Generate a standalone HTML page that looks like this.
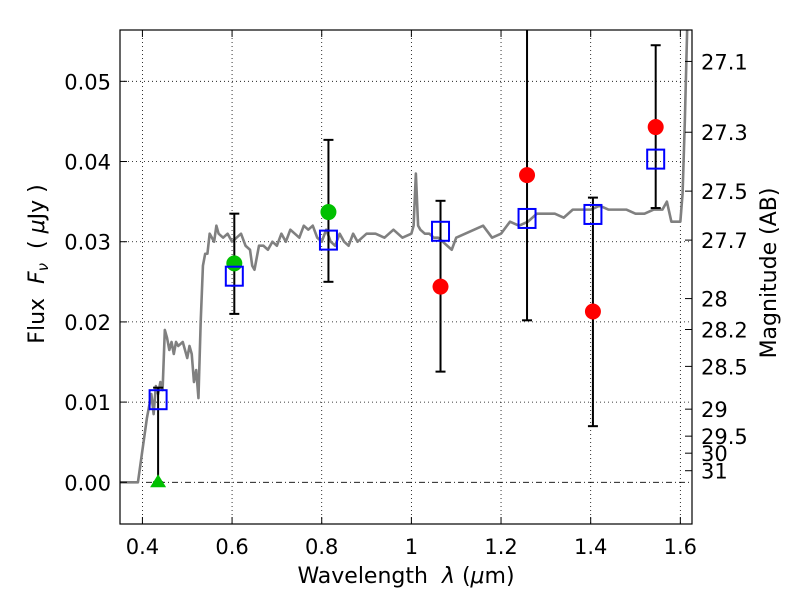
<!DOCTYPE html>
<html><head><meta charset="utf-8"><style>
body{margin:0;background:#fff;}
svg{display:block;font-family:"DejaVu Sans","Liberation Sans",sans-serif;}
text{white-space:pre;}
</style></head><body>
<svg id="c" width="800" height="600" xmlns="http://www.w3.org/2000/svg"></svg>
<script>
const xTicks=[0.4,0.6,0.8,1.0,1.2,1.4,1.6];
const xTickLabels=["0.4","0.6","0.8","1","1.2","1.4","1.6"];
const yTicks=[0,0.01,0.02,0.03,0.04,0.05];
const yTickLabels=["0.00","0.01","0.02","0.03","0.04","0.05"];
const magTicks=[27.1,27.3,27.5,27.7,28,28.2,28.5,29,29.5,30,31];
const bandWl=[0.435,0.605,0.815,1.065,1.258,1.405,1.545];
const modelFlux=[0.0103,0.0257,0.0302,0.0313,0.0329,0.0334,0.0403];
const errHi=[0.0118,0.0335,0.0427,0.0351,0.07,0.0355,0.0545];
const errLo=[0.0,0.021,0.025,0.0138,0.0202,0.007,0.0342];
const greenWl=[0.605,0.815];
const greenFlux=[0.0273,0.0337];
const limitWl=[0.435];
const limitFlux=[0.0];
const redWl=[1.065,1.258,1.405,1.545];
const redFlux=[0.0244,0.0383,0.0213,0.0443];
const specWl=[0.35,0.39,0.40,0.41,0.42,0.425,0.43,0.435,0.44,0.445,0.45,0.455,0.46,0.465,0.47,0.475,0.48,0.49,0.50,0.505,0.51,0.515,0.52,0.525,0.53,0.535,0.54,0.545,0.55,0.56,0.565,0.57,0.58,0.59,0.60,0.61,0.62,0.63,0.64,0.645,0.65,0.655,0.66,0.67,0.68,0.69,0.70,0.71,0.72,0.73,0.74,0.75,0.76,0.77,0.78,0.79,0.80,0.81,0.82,0.83,0.84,0.85,0.86,0.87,0.88,0.89,0.90,0.92,0.94,0.96,0.98,1.0,1.005,1.01,1.015,1.02,1.03,1.04,1.05,1.06,1.07,1.08,1.09,1.10,1.12,1.14,1.16,1.18,1.20,1.22,1.24,1.26,1.28,1.30,1.32,1.34,1.36,1.38,1.40,1.42,1.44,1.46,1.48,1.50,1.52,1.54,1.56,1.57,1.58,1.60,1.605,1.61,1.615,1.62];
const specFlux=[0,0,0.004,0.008,0.011,0.0085,0.012,0.011,0.0125,0.0115,0.019,0.018,0.0165,0.0175,0.016,0.0175,0.017,0.0175,0.0155,0.017,0.016,0.0125,0.014,0.0105,0.020,0.027,0.0285,0.0285,0.031,0.030,0.032,0.031,0.0305,0.031,0.030,0.0305,0.031,0.0295,0.029,0.027,0.0265,0.028,0.0295,0.0295,0.029,0.030,0.0295,0.031,0.030,0.0315,0.031,0.0305,0.032,0.0315,0.032,0.0305,0.030,0.0315,0.030,0.0295,0.031,0.030,0.0295,0.031,0.030,0.0305,0.031,0.031,0.0305,0.0315,0.0305,0.031,0.032,0.0385,0.032,0.0315,0.031,0.031,0.0305,0.0305,0.030,0.0295,0.029,0.0305,0.031,0.0315,0.032,0.0305,0.031,0.0325,0.032,0.0325,0.0335,0.0335,0.0335,0.033,0.034,0.034,0.034,0.0345,0.034,0.034,0.034,0.0335,0.0335,0.034,0.034,0.035,0.0325,0.0325,0.036,0.045,0.056,0.07];
const X0=0.35,X1=1.626,PX0=120,PX1=692;
const Y0=-0.0052,Y1=0.0564,PY0=524,PY1=30;
const sx=v=>PX0+(v-X0)/(X1-X0)*(PX1-PX0);
const sy=v=>PY0-(v-Y0)/(Y1-Y0)*(PY0-PY1);
const magToFlux=m=>Math.pow(10,(23.9-m)/2.5);
const svg=document.getElementById('c');
const NS="http://www.w3.org/2000/svg";
function mk(tag,attrs,parent){const e=document.createElementNS(NS,tag);for(const k in attrs)e.setAttribute(k,attrs[k]);(parent||svg).appendChild(e);return e;}
const clip=mk('clipPath',{id:'pc'});mk('rect',{x:PX0,y:PY1,width:PX1-PX0,height:PY0-PY1},clip);
const g=mk('g',{'clip-path':'url(#pc)'});


xTicks.forEach(v=>{const l=mk('line',{x1:sx(v),x2:sx(v),y1:PY1,y2:PY0,stroke:'#000','stroke-width':0.8,'stroke-dasharray':'1,3'},g);

});
yTicks.forEach(v=>{if(v===0)return;const l=mk('line',{x1:PX0,x2:PX1,y1:sy(v),y2:sy(v),stroke:'#000','stroke-width':0.8,'stroke-dasharray':'1,3'},g);

});
const zl=mk('line',{x1:PX0,x2:PX1,y1:sy(0),y2:sy(0),stroke:'#000','stroke-width':0.8,'stroke-dasharray':'6,3,1,3'},g);


const sp=mk('polyline',{points:specWl.map((w,i)=>sx(w)+','+sy(specFlux[i])).join(' '),fill:'none',stroke:'#808080','stroke-width':2.6,'stroke-linejoin':'round'},g);


bandWl.forEach((w,i)=>{const e=mk('g',{},g);


const x=sx(w);mk('line',{x1:x,x2:x,y1:sy(errHi[i]),y2:sy(errLo[i]),stroke:'#000','stroke-width':2},e);
[errHi[i],errLo[i]].forEach(v=>mk('line',{x1:x-5,x2:x+5,y1:sy(v),y2:sy(v),stroke:'#000','stroke-width':2},e));});
greenWl.forEach((w,i)=>{const c=mk('circle',{cx:sx(w),cy:sy(greenFlux[i]),r:8,fill:'#00c000'},g);

});
limitWl.forEach((w,i)=>{const x=sx(w),y=sy(limitFlux[i]);const t=mk('polygon',{points:`${x-8},${y+5} ${x+8},${y+5} ${x},${y-8}`,fill:'#00c000'},g);

});
bandWl.forEach((w,i)=>{const r=mk('rect',{x:sx(w)-8.5,y:sy(modelFlux[i])-9.5,width:17,height:19,fill:'none',stroke:'#0000ff','stroke-width':2},g);

});
redWl.forEach((w,i)=>{const c=mk('circle',{cx:sx(w),cy:sy(redFlux[i]),r:8,fill:'#ff0000'},g);

});
const fr=mk('rect',{x:PX0,y:PY1,width:PX1-PX0,height:PY0-PY1,fill:'none',stroke:'#000','stroke-width':1.2});


xTicks.forEach((v,i)=>{const x=sx(v);mk('line',{x1:x,x2:x,y1:PY0,y2:PY0-7,stroke:'#000'});mk('line',{x1:x,x2:x,y1:PY1,y2:PY1+7,stroke:'#000'});
const t=mk('text',{x:x,y:554,'font-size':21,'text-anchor':'middle'});t.textContent=xTickLabels[i];

});
yTicks.forEach((v,i)=>{const y=sy(v);mk('line',{x1:PX0,x2:PX0+7,y1:y,y2:y,stroke:'#000'});
const t=mk('text',{x:111,y:y+8,'font-size':21,'text-anchor':'end'});t.textContent=yTickLabels[i];

});
magTicks.forEach(m=>{const y=sy(magToFlux(m));mk('line',{x1:PX1,x2:PX1-7,y1:y,y2:y,stroke:'#000'});
const t=mk('text',{x:701,y:y+8,'font-size':21});t.textContent=String(m);

});
const xl=mk('text',{x:406,y:583,'font-size':22,'text-anchor':'middle'});xl.innerHTML='Wavelength  <tspan font-style="italic">λ</tspan> (<tspan font-style="italic">μ</tspan>m)';


const yl=mk('text',{x:0,y:0,'font-size':22,'text-anchor':'middle',transform:'translate(44,264) rotate(-90)'});yl.innerHTML='Flux  <tspan font-style="italic">F</tspan><tspan font-style="italic" font-size="15" dy="4">ν</tspan><tspan dy="-4">  ( </tspan><tspan font-style="italic">μ</tspan>Jy )';


const rl=mk('text',{x:0,y:0,'font-size':22,'text-anchor':'middle',transform:'translate(776,273) rotate(-90)'});rl.textContent='Magnitude (AB)';


</script>
</body></html>
